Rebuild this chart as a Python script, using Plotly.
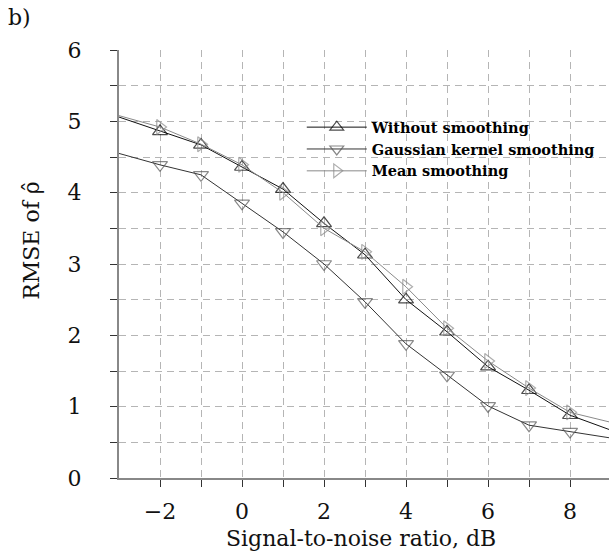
import plotly.graph_objects as go

snr = [-3, -2, -1, 0, 1, 2, 3, 4, 5, 6, 7, 8, 9]
without_smoothing = [5.06, 4.86, 4.67, 4.36, 4.05, 3.57, 3.13, 2.50, 2.05, 1.56, 1.23, 0.88, 0.67]
gaussian_smoothing = [4.55, 4.39, 4.25, 3.85, 3.45, 3.00, 2.47, 1.88, 1.44, 1.01, 0.74, 0.65, 0.56]
mean_smoothing = [5.08, 4.92, 4.68, 4.39, 4.00, 3.50, 3.17, 2.68, 2.10, 1.64, 1.26, 0.92, 0.78]

x_tick_vals = [-2, 0, 2, 4, 6, 8]
x_tick_text = ["\u22122", "0", "2", "4", "6", "8"]
x_minor_vals = [-1, 1, 3, 5, 7]
y_tick_vals = [0, 0.5, 1, 1.5, 2, 2.5, 3, 3.5, 4, 4.5, 5, 5.5, 6]
y_tick_text = ["0", "", "1", "", "2", "", "3", "", "4", "", "5", "", "6"]

FONT = "DejaVu Serif"
FS = 22
sizes = [0] + [13] * (len(snr) - 1)

fig = go.Figure()
series = [
    ("Without smoothing", without_smoothing, "triangle-up-open", "#000000", "#111111"),
    ("Gaussian kernel smoothing", gaussian_smoothing, "triangle-down-open", "#555555", "#333333"),
    ("Mean smoothing", mean_smoothing, "triangle-right-open", "#8a8a8a", "#8a8a8a"),
]
for name, vals, sym, mcol, lcol in series:
    fig.add_trace(go.Scatter(
        x=snr, y=vals, name=name, mode="lines+markers",
        line=dict(color=lcol, width=1),
        marker=dict(symbol=sym, size=sizes, color=mcol, line=dict(width=1.2, color=mcol)),
        cliponaxis=False,
    ))

grid_col = "#b5b5b5"
fig.update_layout(
    width=609, height=556,
    margin=dict(l=119, r=0, t=50, b=78, autoexpand=False),
    paper_bgcolor="white", plot_bgcolor="white",
    font=dict(family=FONT, size=FS, color="#111111"),
    showlegend=True,
    legend=dict(
        x=0.373, y=0.857, xanchor="left", yanchor="top",
        bgcolor="rgba(0,0,0,0)", borderwidth=0,
        font=dict(family=FONT, size=14.5, color="#000000", weight="bold"),
        itemwidth=60, tracegroupgap=0,
    ),
    xaxis=dict(
        range=[-3, 8.95], tickvals=x_tick_vals, ticktext=x_tick_text,
        automargin=False,
        showgrid=True, gridcolor=grid_col, griddash="7px,5px", gridwidth=1,
        showline=True, linecolor="#888888", linewidth=2,
        ticks="outside", ticklen=7, tickcolor="#333333",
        ticklabelstandoff=6,
        minor=dict(tickvals=x_minor_vals, showgrid=True, gridcolor=grid_col,
                   griddash="7px,5px", ticks="outside", ticklen=7, tickcolor="#333333"),
        zeroline=False,
        tickfont=dict(family=FONT, size=FS),
    ),
    yaxis=dict(
        range=[0, 6], tickvals=y_tick_vals, ticktext=y_tick_text,
        automargin=False,
        showgrid=True, gridcolor=grid_col, griddash="7px,5px", gridwidth=1,
        showline=True, linecolor="#888888", linewidth=2,
        ticks="outside", ticklen=7, tickcolor="#333333",
        ticklabelstandoff=24,
        zeroline=False,
        tickfont=dict(family=FONT, size=FS),
    ),
)
fig.add_annotation(text="Signal-to-noise ratio, dB", xref="paper", yref="paper",
                   x=0.494, y=-0.142, xanchor="center", yanchor="middle", showarrow=False,
                   font=dict(family=FONT, size=FS, color="#111111"))
fig.add_annotation(text="RMSE of \u03c1\u0302", xref="paper", yref="paper", textangle=-90,
                   x=-0.18, y=0.556, xanchor="center", yanchor="middle", showarrow=False,
                   font=dict(family=FONT, size=FS, color="#111111"))
fig.add_annotation(text="b)", xref="paper", yref="paper", x=-0.23, y=1.077,
                   xanchor="left", yanchor="middle", showarrow=False,
                   font=dict(family=FONT, size=FS, color="#111111"))

fig.write_html("out.html", config={"displayModeBar": False},
               post_script="document.body.style.margin='0';document.body.style.overflow='hidden';")
